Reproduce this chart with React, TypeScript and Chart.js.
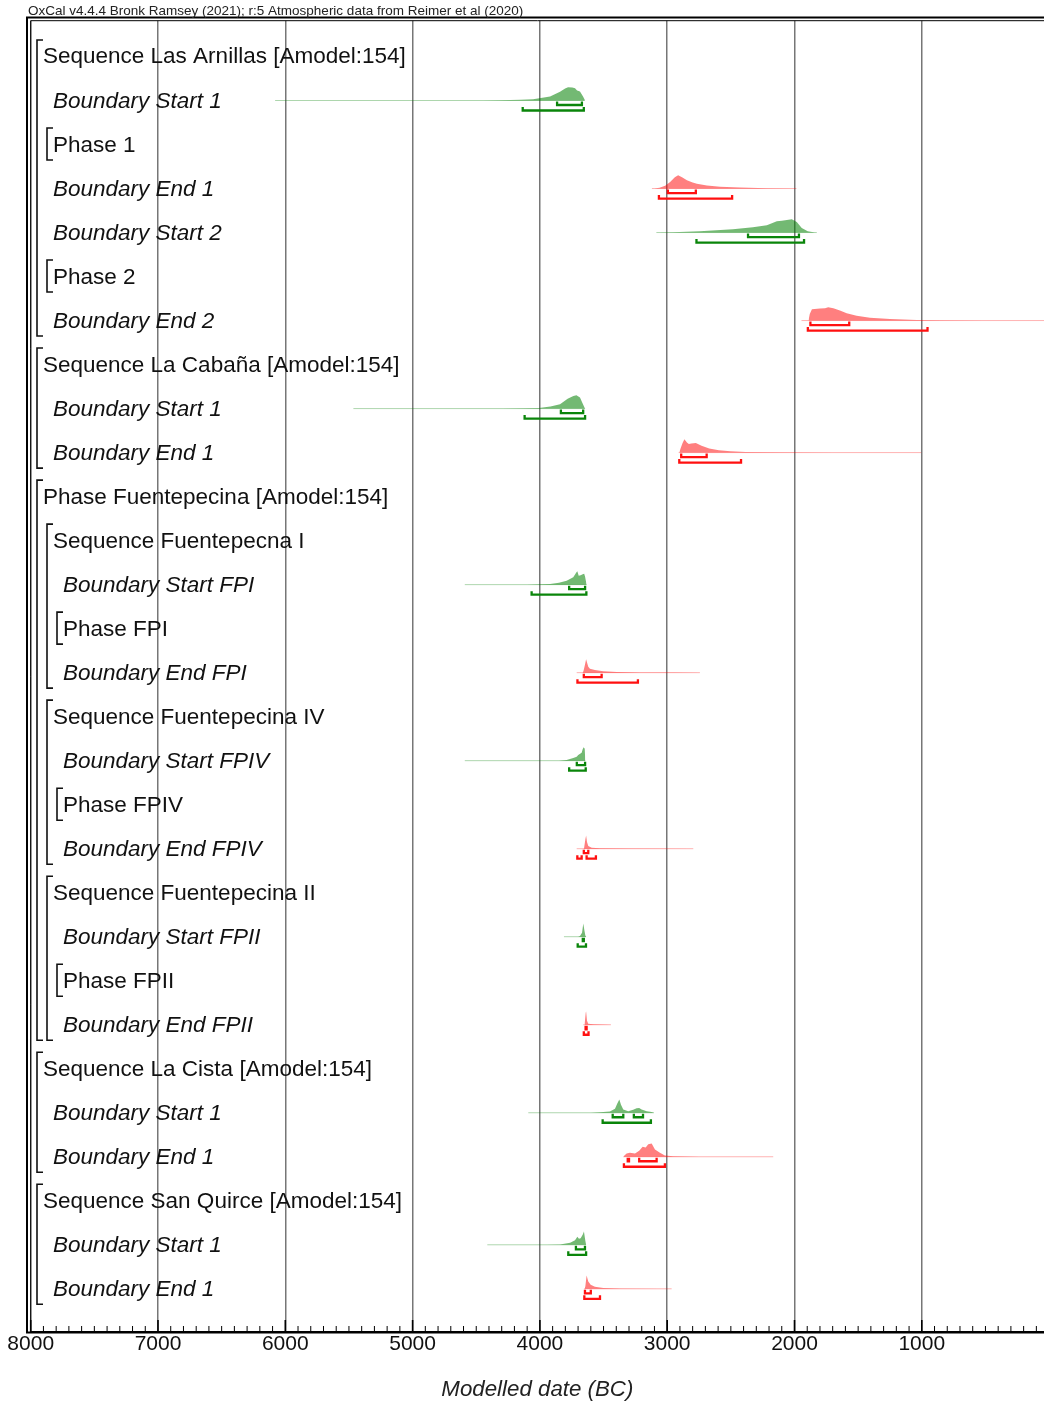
import React, { useEffect, useRef } from 'react';
import { Chart, registerables } from 'chart.js';

Chart.register(...registerables);

const FONT = '"Liberation Sans", Arial, Helvetica, sans-serif';
const HEADER = 'OxCal v4.4.4 Bronk Ramsey (2021); r:5 Atmospheric data from Reimer et al (2020)';
const AXIS_TITLE = 'Modelled date (BC)';

// x axis (years BC), ascending order
const TICK_VALUES = [1000, 2000, 3000, 4000, 5000, 6000, 7000, 8000];

// Model structure
const ROW_LABELS = [
  'Sequence Las Arnillas [Amodel:154]', 'Boundary Start 1', 'Phase 1', 'Boundary End 1', 'Boundary Start 2', 'Phase 2', 'Boundary End 2',
  'Sequence La Cabaña [Amodel:154]', 'Boundary Start 1', 'Boundary End 1',
  'Phase Fuentepecina [Amodel:154]', 'Sequence Fuentepecna I', 'Boundary Start FPI', 'Phase FPI', 'Boundary End FPI',
  'Sequence Fuentepecina IV', 'Boundary Start FPIV', 'Phase FPIV', 'Boundary End FPIV',
  'Sequence Fuentepecina II', 'Boundary Start FPII', 'Phase FPII', 'Boundary End FPII',
  'Sequence La Cista [Amodel:154]', 'Boundary Start 1', 'Boundary End 1',
  'Sequence San Quirce [Amodel:154]', 'Boundary Start 1', 'Boundary End 1',
];
const ROW_DEPTH = [0, 1, 1, 1, 1, 1, 1, 0, 1, 1, 0, 1, 2, 2, 2, 1, 2, 2, 2, 1, 2, 2, 2, 0, 1, 1, 0, 1, 1];
// [first row, last row, depth]
const GROUPS = [
  [0, 6, 0], [2, 2, 1], [5, 5, 1], [7, 9, 0], [10, 22, 0], [11, 14, 1], [13, 13, 2],
  [15, 18, 1], [17, 17, 2], [19, 22, 1], [21, 21, 2], [23, 25, 0], [26, 28, 0],
];

// Boundary distributions: span of the faint line, posterior [year, relative density], 68.3% and 95.4% ranges
const arnStart1Span = [6080, 3650];
const arnStart1Post = [[4450, 0], [4314, 0.02], [4150, 0.05], [4053, 0.1], [3920, 0.3], [3842, 0.65], [3802, 0.9], [3779, 1.0], [3745, 0.97], [3724, 0.93], [3708, 0.75], [3685, 0.68], [3661, 0.3], [3645, 0]];
const arnStart1R68 = [[3865, 3670]];
const arnStart1R95 = [[4135, 3655]];

const arnEnd1Span = [3120, 1985];
const arnEnd1Post = [[3100, 0], [3060, 0.05], [3016, 0.2], [2977, 0.5], [2940, 0.85], [2914, 1.0], [2880, 0.82], [2845, 0.62], [2800, 0.45], [2767, 0.36], [2688, 0.22], [2585, 0.13], [2430, 0.07], [2215, 0.03], [2010, 0.01], [1985, 0]];
const arnEnd1R68 = [[2995, 2775]];
const arnEnd1R95 = [[3065, 2490]];

const arnStart2Span = [3085, 1825];
const arnStart2Post = [[3060, 0], [2955, 0.03], [2743, 0.1], [2484, 0.25], [2327, 0.4], [2217, 0.55], [2139, 0.85], [2100, 0.88], [2060, 0.95], [2021, 1.0], [1982, 0.8], [1943, 0.35], [1896, 0.1], [1840, 0.01], [1825, 0]];
const arnStart2R68 = [[2365, 1965]];
const arnStart2R95 = [[2770, 1925]];

const arnEnd2Span = [1945, -300];
const arnEnd2Post = [[1890, 0], [1880, 0.5], [1863, 0.85], [1800, 0.9], [1760, 0.92], [1735, 1.0], [1695, 0.92], [1643, 0.75], [1590, 0.55], [1512, 0.37], [1407, 0.22], [1250, 0.12], [1040, 0.05], [857, 0.02], [500, 0.005], [-300, 0]];
const arnEnd2R68 = [[1875, 1570]];
const arnEnd2R95 = [[1895, 955]];

const cabStart1Span = [5465, 3645];
const cabStart1Post = [[4300, 0], [4128, 0.02], [4007, 0.05], [3917, 0.15], [3842, 0.32], [3782, 0.74], [3737, 0.95], [3713, 1.0], [3685, 0.84], [3665, 0.4], [3646, 0]];
const cabStart1R68 = [[3835, 3660]];
const cabStart1R95 = [[4120, 3645]];

const cabEnd1Span = [2910, 1005];
const cabEnd1Post = [[2905, 0], [2895, 0.3], [2880, 0.7], [2865, 1.0], [2845, 0.75], [2830, 0.65], [2811, 0.68], [2775, 0.72], [2730, 0.52], [2670, 0.3], [2594, 0.18], [2504, 0.1], [2384, 0.05], [2114, 0.02], [1663, 0.008], [1005, 0]];
const cabEnd1R68 = [[2890, 2690]];
const cabEnd1R95 = [[2905, 2420]];

const fpiStartSpan = [4590, 3633];
const fpiStartPost = [[4100, 0], [3920, 0.05], [3850, 0.15], [3790, 0.29], [3738, 0.55], [3714, 0.92], [3706, 1.0], [3695, 0.66], [3680, 0.7], [3664, 0.78], [3652, 0.82], [3645, 0.6], [3633, 0]];
const fpiStartR68 = [[3770, 3645]];
const fpiStartR95 = [[4065, 3635]];

const fpiEndSpan = [3711, 2743];
const fpiEndPost = [[3665, 0], [3658, 0.1], [3646, 0.6], [3637, 1.0], [3628, 0.7], [3620, 0.45], [3607, 0.3], [3568, 0.2], [3502, 0.1], [3397, 0.05], [3214, 0.02], [2952, 0.008], [2743, 0]];
const fpiEndR68 = [[3655, 3515]];
const fpiEndR95 = [[3705, 3230]];

const fpivStartSpan = [4590, 3643];
const fpivStartPost = [[3850, 0], [3790, 0.05], [3738, 0.2], [3711, 0.3], [3699, 0.42], [3672, 0.6], [3664, 0.85], [3656, 1.0], [3648, 0.9], [3643, 0]];
const fpivStartR68 = [[3710, 3645]];
const fpivStartR95 = [[3770, 3640]];

const fpivEndSpan = [3711, 2795];
const fpivEndPost = [[3658, 0], [3653, 0.05], [3643, 0.7], [3637, 1.0], [3630, 0.5], [3620, 0.2], [3593, 0.08], [3528, 0.03], [3300, 0.01], [2795, 0]];
const fpivEndR68 = [[3655, 3620]];
const fpivEndR95 = [[3706, 3672], [3633, 3560]];

const fpiiStartSpan = [3811, 3637];
const fpiiStartPost = [[3700, 0], [3685, 0.05], [3669, 0.3], [3659, 1.0], [3651, 0.5], [3643, 0.1], [3637, 0]];
const fpiiStartR68 = [[3663, 3655]];
const fpiiStartR95 = [[3703, 3638]];

const fpiiEndSpan = [3659, 3442];
const fpiiEndPost = [[3652, 0], [3648, 0.1], [3640, 0.9], [3637, 1.0], [3630, 0.3], [3620, 0.08], [3580, 0.03], [3442, 0]];
const fpiiEndR68 = [[3641, 3633]];
const fpiiEndR95 = [[3655, 3618]];

const cisStart1Span = [4091, 3104];
const cisStart1Post = [[3600, 0], [3528, 0.03], [3450, 0.1], [3410, 0.3], [3392, 0.7], [3376, 1.0], [3363, 0.6], [3345, 0.25], [3306, 0.12], [3267, 0.22], [3240, 0.33], [3220, 0.35], [3201, 0.25], [3161, 0.12], [3122, 0.05], [3104, 0]];
const cisStart1R68 = [[3428, 3345], [3262, 3190]];
const cisStart1R95 = [[3507, 3128]];

const cisEnd1Span = [3345, 2167];
const cisEnd1Post = [[3345, 0], [3340, 0.05], [3319, 0.25], [3293, 0.3], [3253, 0.25], [3220, 0.45], [3193, 0.75], [3169, 0.7], [3149, 0.95], [3122, 1.0], [3096, 0.55], [3057, 0.3], [3018, 0.1], [2953, 0.03], [2743, 0.01], [2167, 0]];
const cisEnd1R68 = [[3310, 3300], [3220, 3083]];
const cisEnd1R95 = [[3340, 3018]];

const sqStart1Span = [4413, 3637];
const sqStart1Post = [[3950, 0], [3842, 0.03], [3762, 0.15], [3724, 0.35], [3706, 0.6], [3693, 0.45], [3680, 0.5], [3664, 0.75], [3654, 1.0], [3643, 0.3], [3637, 0]];
const sqStart1R68 = [[3717, 3646]];
const sqStart1R95 = [[3777, 3637]];

const sqEnd1Span = [3654, 2965];
const sqEnd1Post = [[3648, 0], [3643, 0.2], [3633, 1.0], [3620, 0.55], [3601, 0.3], [3568, 0.15], [3502, 0.06], [3371, 0.02], [3057, 0.01], [2965, 0]];
const sqEnd1R68 = [[3646, 3600]];
const sqEnd1R95 = [[3651, 3528]];

// row index, start(green)/end(red), span, posterior, 68 ranges, 95 ranges
const BOUNDARIES: [number, string, number[], number[][], number[][], number[][]][] = [
  [1, 'start', arnStart1Span, arnStart1Post, arnStart1R68, arnStart1R95],
  [3, 'end', arnEnd1Span, arnEnd1Post, arnEnd1R68, arnEnd1R95],
  [4, 'start', arnStart2Span, arnStart2Post, arnStart2R68, arnStart2R95],
  [6, 'end', arnEnd2Span, arnEnd2Post, arnEnd2R68, arnEnd2R95],
  [8, 'start', cabStart1Span, cabStart1Post, cabStart1R68, cabStart1R95],
  [9, 'end', cabEnd1Span, cabEnd1Post, cabEnd1R68, cabEnd1R95],
  [12, 'start', fpiStartSpan, fpiStartPost, fpiStartR68, fpiStartR95],
  [14, 'end', fpiEndSpan, fpiEndPost, fpiEndR68, fpiEndR95],
  [16, 'start', fpivStartSpan, fpivStartPost, fpivStartR68, fpivStartR95],
  [18, 'end', fpivEndSpan, fpivEndPost, fpivEndR68, fpivEndR95],
  [20, 'start', fpiiStartSpan, fpiiStartPost, fpiiStartR68, fpiiStartR95],
  [22, 'end', fpiiEndSpan, fpiiEndPost, fpiiEndR68, fpiiEndR95],
  [24, 'start', cisStart1Span, cisStart1Post, cisStart1R68, cisStart1R95],
  [25, 'end', cisEnd1Span, cisEnd1Post, cisEnd1R68, cisEnd1R95],
  [27, 'start', sqStart1Span, sqStart1Post, sqStart1R68, sqStart1R95],
  [28, 'end', sqEnd1Span, sqEnd1Post, sqEnd1R68, sqEnd1R95],
];

const COLORS: Record<string, { fill: string; thin: string; range: string }> = {
  start: { fill: 'rgba(0,128,0,0.55)', thin: 'rgba(0,128,0,0.32)', range: '#0a850a' },
  end: { fill: 'rgba(255,0,0,0.5)', thin: 'rgba(255,0,0,0.3)', range: '#ff1010' },
};

const ROW_PX = 44;
const BASE = 0.5 / ROW_PX;
const PEAK = 13.3 / ROW_PX;
const Y68 = 5 / ROW_PX;
const Y95 = 10.5 / ROW_PX;
const TICK = 3.5 / ROW_PX;

function buildDatasets() {
  const ds: any[] = [];
  const common = { pointRadius: 0, pointHoverRadius: 0, tension: 0, spanGaps: false };
  BOUNDARIES.forEach(([row, kind, span, post, r68, r95]) => {
    const c = COLORS[kind];
    const base = row + BASE;
    ds.push({ ...common, data: span.map((x) => ({ x, y: base })), borderColor: c.thin, borderWidth: 1, fill: false });
    ds.push({
      ...common,
      data: post.map(([x, d]) => ({ x, y: base - d * PEAK })),
      borderColor: 'transparent',
      borderWidth: 0,
      backgroundColor: c.fill,
      fill: { value: base },
    });
    const addRange = (segs: number[][], off: number) => {
      segs.forEach(([a, b]) => {
        const y = row + off;
        ds.push({
          ...common,
          data: [{ x: a, y: y - TICK }, { x: a, y }, { x: b, y }, { x: b, y: y - TICK }],
          borderColor: c.range,
          borderWidth: 2.3,
          borderJoinStyle: 'miter',
          borderCapStyle: 'butt',
          fill: false,
        });
      });
    };
    addRange(r68, Y68);
    addRange(r95, Y95);
  });
  return ds;
}

const oxcalPlugin = {
  id: 'oxcalDecor',
  afterDraw(chart: any) {
    const { ctx, chartArea, scales } = chart;
    const xs = scales.x;
    const ys = scales.y;
    const W = chart.width;
    ctx.save();
    // axis ticks pointing inward
    ctx.strokeStyle = '#000';
    const axisY = chartArea.bottom;
    for (let v = 8000; v >= xs.min; v -= 100) {
      const px = xs.getPixelForValue(v);
      const major = v % 1000 === 0;
      ctx.lineWidth = major ? 1.6 : 1;
      ctx.beginPath();
      ctx.moveTo(px, axisY);
      ctx.lineTo(px, axisY - (major ? 12 : 6));
      ctx.stroke();
    }
    // double frame
    ctx.lineWidth = 2;
    ctx.beginPath();
    ctx.moveTo(W, 17.5);
    ctx.lineTo(27, 17.5);
    ctx.lineTo(27, axisY + 1);
    ctx.stroke();
    ctx.lineWidth = 1;
    ctx.beginPath();
    ctx.moveTo(W, chartArea.top);
    ctx.lineTo(chartArea.left, chartArea.top);
    ctx.lineTo(chartArea.left, axisY);
    ctx.stroke();
    ctx.lineWidth = 2;
    ctx.beginPath();
    ctx.moveTo(26, axisY + 0.5);
    ctx.lineTo(W, axisY + 0.5);
    ctx.stroke();
    // header
    ctx.font = `13.5px ${FONT}`;
    ctx.fillStyle = '#222';
    ctx.textBaseline = 'alphabetic';
    ctx.textAlign = 'left';
    ctx.fillText(HEADER, 28, 14.5);
    // row labels
    ROW_LABELS.forEach((label, i) => {
      const y = ys.getPixelForValue(i);
      const italic = label.startsWith('Boundary');
      ctx.font = `${italic ? 'italic ' : ''}22.5px ${FONT}`;
      ctx.fillStyle = '#111';
      ctx.fillText(label, 43 + 10 * ROW_DEPTH[i], y + 7.5);
    });
    // structure brackets
    ctx.lineWidth = 1.6;
    ctx.strokeStyle = '#111';
    GROUPS.forEach(([a, b, d]) => {
      const x = 37 + 10 * d;
      const t = ys.getPixelForValue(a) - 16;
      const bt = ys.getPixelForValue(b) + 16;
      ctx.beginPath();
      ctx.moveTo(x + 6, t);
      ctx.lineTo(x, t);
      ctx.lineTo(x, bt);
      ctx.lineTo(x + 6, bt);
      ctx.stroke();
    });
    ctx.restore();
  },
};

export default function App() {
  const ref = useRef<HTMLCanvasElement>(null);
  useEffect(() => {
    const canvas = ref.current;
    if (!canvas) return;
    Chart.defaults.font.family = FONT;
    const chart = new Chart(canvas, {
      type: 'line',
      data: { datasets: buildDatasets() },
      options: {
        animation: false,
        responsive: false,
        devicePixelRatio: 1,
        events: [],
        layout: { padding: { left: 30.7, top: 20.7, right: 0, bottom: 0 } },
        plugins: { legend: { display: false }, tooltip: { enabled: false } },
        scales: {
          x: {
            type: 'linear',
            reverse: true,
            min: 40,
            max: 8000,
            afterBuildTicks: (axis: any) => {
              axis.ticks = TICK_VALUES.map((v) => ({ value: v }));
            },
            afterFit: (axis: any) => {
              axis.height = 73;
            },
            ticks: {
              autoSkip: false,
              maxRotation: 0,
              padding: 1.5,
              color: '#111',
              font: { size: 21, lineHeight: 1, family: FONT },
              callback: (v: any) => String(v),
            },
            grid: { display: true, drawOnChartArea: true, drawTicks: false, color: '#767676', lineWidth: 1.5 },
            border: { display: true, color: '#000', width: 2 },
            title: {
              display: true,
              text: AXIS_TITLE,
              color: '#222',
              font: { size: 22.3, style: 'italic', family: FONT, lineHeight: 1.2 },
              padding: { top: 0, bottom: 2 },
            },
          },
          y: {
            type: 'linear',
            display: false,
            reverse: true,
            min: -0.802,
            max: 28.993,
          },
        },
      },
      plugins: [oxcalPlugin],
    } as any);
    return () => chart.destroy();
  }, []);
  return (
    <div style={{ position: 'absolute', left: 0, top: 0, width: 1044, height: 1405, background: '#fff' }}>
      <canvas ref={ref} width={1044} height={1405} style={{ display: 'block', width: 1044, height: 1405 }} />
    </div>
  );
}
